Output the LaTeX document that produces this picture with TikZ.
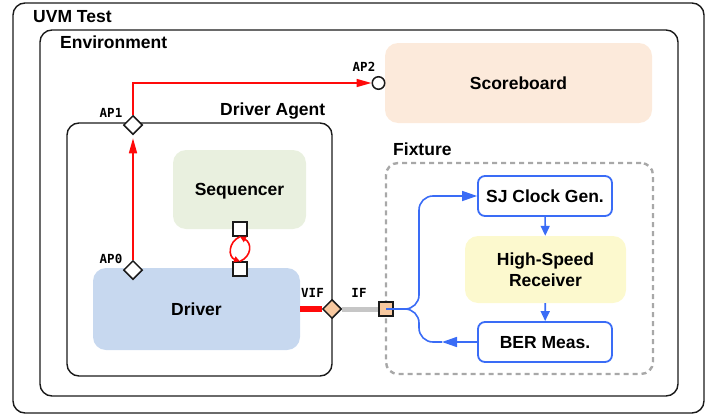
\documentclass[tikz,border=0pt]{standalone}
\usepackage{fontspec}
\setmainfont{Liberation Sans}
\newfontfamily\apfont{DejaVu Sans Mono}
\usetikzlibrary{arrows.meta,shapes.geometric}
\definecolor{redc}{HTML}{FF0A0A}
\definecolor{bluec}{HTML}{3A6CF6}
\definecolor{sbfill}{HTML}{FCEADB}
\definecolor{seqfill}{HTML}{E9F0DF}
\definecolor{drvfill}{HTML}{C7D8EF}
\definecolor{hsrfill}{HTML}{FCF9CE}
\definecolor{portfill}{HTML}{F8C9A0}
\definecolor{fixgray}{HTML}{A8A8A8}
\definecolor{ifgray}{HTML}{C6C6C6}
\definecolor{edge}{HTML}{1A1A1A}
\begin{document}
\begin{tikzpicture}[x=1pt,y=-1pt,
  container/.style={draw=edge, line width=1.4pt, rounded corners=12pt, inner sep=0pt},
  ttl/.style={font=\fontsize{17.5}{20}\selectfont\bfseries, anchor=base west, inner sep=0pt},
  aplbl/.style={font=\apfont\bfseries\fontsize{12.5}{14}\selectfont, anchor=base, inner sep=0pt},
  softbox/.style={draw=none, rounded corners=13pt, inner sep=0pt, align=center, text depth=0pt,
    font=\fontsize{17.5}{21}\selectfont\bfseries},
  bluebox/.style={draw=bluec, line width=1.8pt, fill=white, rounded corners=7pt, inner sep=0pt,
    align=center, text depth=0pt, font=\fontsize{17.5}{21}\selectfont\bfseries},
  apd/.style={diamond, aspect=1, draw=edge, line width=1.5pt, fill=white, inner sep=0pt,
    minimum width=19pt, minimum height=19pt},
  portsq/.style={rectangle, draw=edge, line width=1.3pt, fill=white, inner sep=0pt, minimum size=14pt},
  redline/.style={draw=redc, line width=1.6pt},
  blueline/.style={draw=bluec, line width=1.6pt},
  redtip/.style={-{Triangle[length=15pt,width=8pt]}},
  bluetip/.style={-{Triangle[length=15pt,width=10pt]}},
  smalltip/.style={-{Triangle[length=10pt,width=9pt]}}
]
\useasboundingbox (0,0) rectangle (709,415);
% containers
\node[container, minimum width=691pt, minimum height=410pt] (uvm) at (358.5,208) {};
\node[ttl] (tuvm) at (33,23) {UVM Test};
\node[container, minimum width=638pt, minimum height=366pt] (env) at (359,213) {};
\node[ttl] (tenv) at (60,48) {Environment};
\node[container, minimum width=265pt, minimum height=253pt] (agent) at (199.5,249.5) {};
\node[ttl] (tagent) at (220,115) {Driver Agent};
\node[draw=fixgray, line width=2.4pt, dash pattern=on 5pt off 4pt, rounded corners=12pt,
  minimum width=267pt, minimum height=211pt, inner sep=0pt] (fix) at (519.5,268.5) {};
\node[ttl] (tfix) at (393,155) {Fixture};
% boxes
\node[softbox, fill=sbfill, minimum width=267pt, minimum height=80pt] (sb) at (518.5,83) {Scoreboard};
\node[softbox, fill=seqfill, minimum width=133pt, minimum height=79pt] (seq) at (239.5,189.5) {Sequencer};
\node[softbox, fill=drvfill, minimum width=207pt, minimum height=82pt] (drv) at (196.5,309) {Driver};
\node[bluebox, minimum width=134pt, minimum height=40pt] (sj) at (545,196) {SJ Clock Gen.};
\node[softbox, fill=hsrfill, minimum width=161pt, minimum height=67pt] (hsr) at (545.5,269.5) {High-Speed\\Receiver};
\node[bluebox, minimum width=134pt, minimum height=40pt] (ber) at (545,342) {BER Meas.};
% analysis ports
\node[apd] (ap1) at (133,125) {};
\node[apd] (ap0) at (133,270) {};
\node[circle, draw=edge, line width=1.5pt, fill=white, inner sep=0pt, minimum size=12.5pt] (ap2) at (378.5,83) {};
\node[aplbl] (lap1) at (111,117) {AP1};
\node[aplbl] (lap0) at (111,263) {AP0};
\node[aplbl] (lap2) at (364,71) {AP2};
% red connections
\draw[redline, redtip, shorten >=3pt] (ap0.north) -- (ap1.south);
\draw[redline, redtip] (ap1.north) |- (ap2.west);
% seq-driver ports
\node[portsq] (sp) at (240,229) {};
\node[portsq] (dp) at (240,269) {};
\draw[redline, -{Triangle[length=6pt,width=6pt]}] (sp.south) .. controls (228,242) and (228,257) .. (dp.north);
\draw[redline, -{Triangle[length=6pt,width=6pt]}] (dp.north) .. controls (252,256) and (252,243) .. (sp.south);
% interface
\node[diamond, aspect=1, draw=edge, line width=1.5pt, fill=portfill, inner sep=0pt,
  minimum width=19pt, minimum height=19pt] (vif) at (332,309) {};
\node[portsq, fill=portfill] (ifp) at (386,309) {};
\draw[draw=redc, line width=5.5pt] (drv.east) -- (vif.west);
\draw[draw=ifgray, line width=5pt] (vif.east) -- (ifp.west);
\node[aplbl] (lvif) at (312.5,297) {VIF};
\node[aplbl] (lif) at (359,297) {IF};
% blue connections
\draw[blueline, rounded corners=14pt, bluetip] (ifp.center) -- (419,309) -- (419,196) -- (sj.west);
\coordinate (bt) at (442,342);
\draw[blueline, bluetip] (ber.west) -- (bt);
\draw[blueline, rounded corners=14pt] (bt) -- (419,342) -- (419,309) -- (ifp.center);
\draw[blueline, smalltip] (sj) -- (hsr);
\draw[blueline, smalltip] (hsr) -- (ber);
\end{tikzpicture}
\end{document}
